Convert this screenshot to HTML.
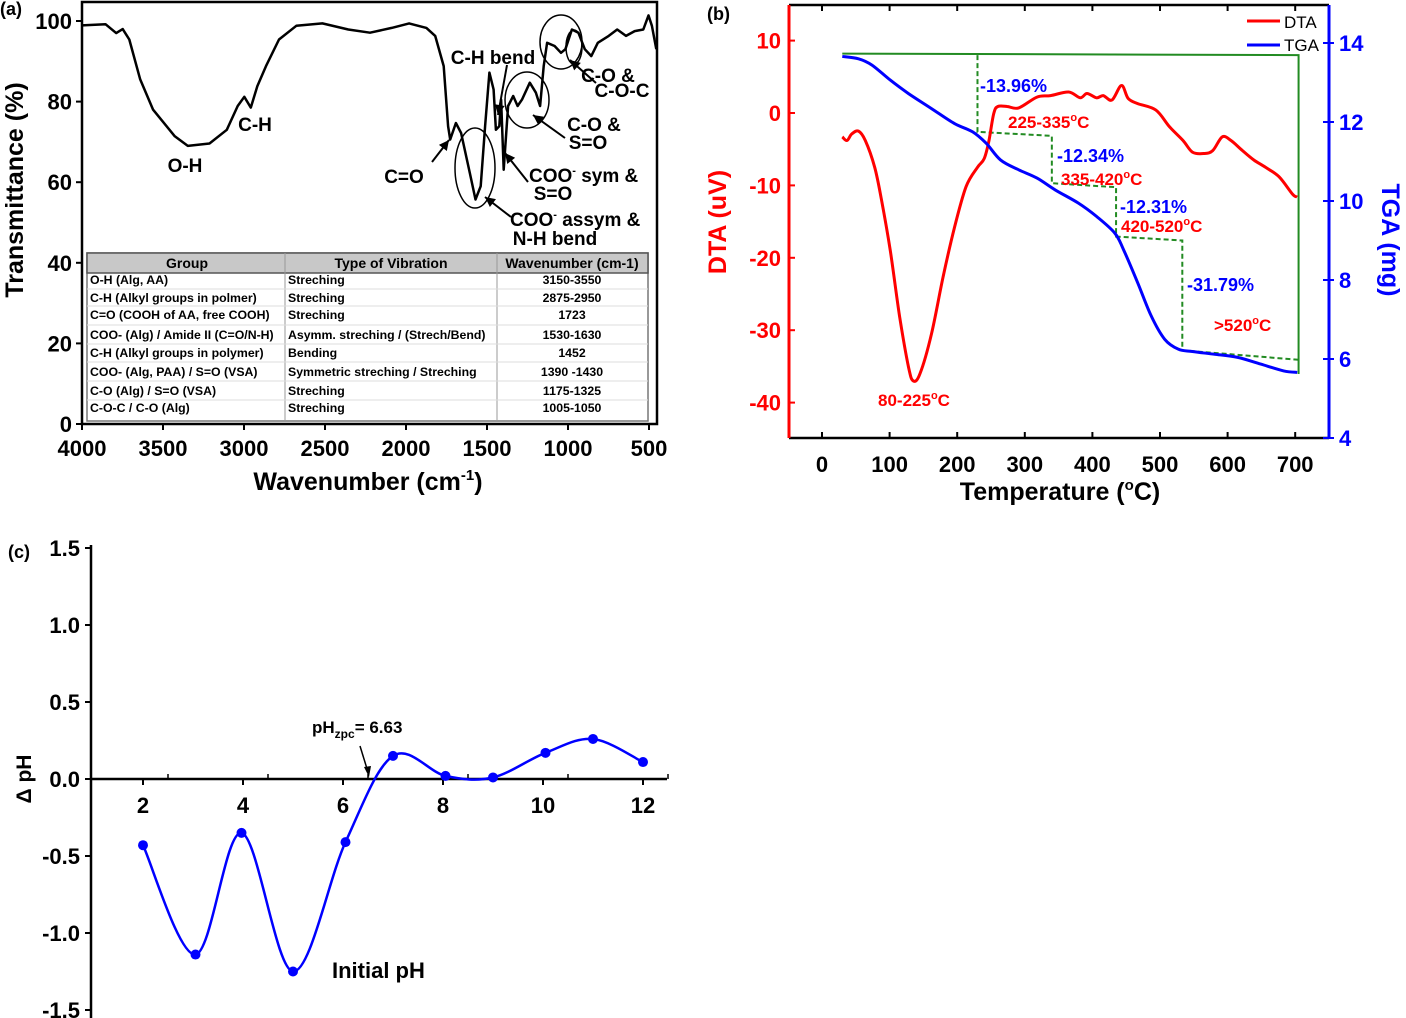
<!DOCTYPE html>
<html><head><meta charset="utf-8"><style>
html,body{margin:0;padding:0;background:#fff;}
svg{display:block;font-family:"Liberation Sans",Arial,sans-serif;font-weight:bold;}
</style></head><body>
<svg id="fig" width="1406" height="1018" viewBox="0 0 1406 1018" xmlns="http://www.w3.org/2000/svg">
<g id="pa"></g>
<g id="pb"></g>
<g id="pc"></g>
</svg>
<script>
// ---------- Panel (a) FTIR data ----------
const ftirWave = [4000,3855,3789,3749,3708,3641,3561,3427,3347,3213,3106,3039,2998,2958,2918,2864,2784,2677,2516,2356,2222,2088,1981,1874,1820,1767,1740,1727,1692,1660,1606,1571,1539,1512,1485,1459,1445,1424,1413,1397,1370,1338,1311,1284,1236,1198,1172,1150,1129,1083,1043,1016,976,936,896,856,816,749,696,642,588,535,503,482,455];
const ftirTrans = [98.9,99.2,97,98,95.4,85.5,78,71.4,69,69.6,73,78.9,81.2,78.5,83.8,88.8,95.4,98.8,99.4,97.9,97.1,98.3,99.4,98.3,96.3,88.8,73.9,70.6,74.7,72.2,62.3,55.7,59,73.9,87.2,83,73,73.9,80.5,63.1,78.9,81.4,78.9,80.5,84.7,82.2,78.9,88.8,94.6,93.8,92.1,93,97.9,97.1,93,91.3,94.6,96.3,97.9,96.3,97.5,97.9,101.4,98.8,93];
const ftirXTicks = [4000,3500,3000,2500,2000,1500,1000,500];
const ftirYTicks = [0,20,40,60,80,100];
const tableGroups = ["O-H (Alg, AA)","C-H (Alkyl groups in polmer)","C=O (COOH of AA, free COOH)","COO- (Alg) / Amide II (C=O/N-H)","C-H (Alkyl groups in polymer)","COO- (Alg, PAA) / S=O (VSA)","C-O (Alg) / S=O (VSA)","C-O-C / C-O (Alg)"];
const tableTypes = ["Streching","Streching","Streching","Asymm. streching / (Strech/Bend)","Bending","Symmetric streching / Streching","Streching","Streching"];
const tableWaves = ["3150-3550","2875-2950","1723","1530-1630","1452","1390 -1430","1175-1325","1005-1050"];

// ---------- Panel (b) thermal data ----------
const dtaTemp = [30,37,44,54,64,78,88,101,115,128,135,145,162,179,196,213,230,240,247,254,260,274,291,318,338,365,382,392,406,416,429,443,453,467,494,514,534,548,565,578,592,605,622,639,656,676,696,703];
const dtaVal = [-3.3,-3.8,-2.9,-2.5,-3.8,-7.5,-12,-19,-28.2,-35.1,-37,-36,-30.5,-22.7,-15.8,-10.2,-7.5,-6.3,-3.8,-0.1,0.9,0.9,0.7,2.2,2.4,2.9,2.1,2.7,2.1,2.4,1.8,3.8,2.0,1.3,0.4,-1.9,-3.8,-5.4,-5.6,-5.2,-3.3,-3.8,-5.2,-6.5,-7.5,-8.8,-11.2,-11.6];
const tgaTemp = [30,54,74,101,128,162,196,223,243,264,291,318,345,379,406,433,446,467,487,507,527,548,581,615,649,683,703];
const tgaVal = [13.66,13.6,13.44,13.06,12.72,12.34,11.96,11.75,11.46,11.04,10.79,10.58,10.28,9.95,9.61,9.19,8.77,7.93,7.09,6.5,6.25,6.19,6.12,6.04,5.87,5.7,5.66];
const tempTicks = [0,100,200,300,400,500,600,700];
const dtaTicks = [-40,-30,-20,-10,0,10];
const tgaTicks = [4,6,8,10,12,14];
const stepTemps = [230,340,435,533];
const stepTga = [11.75,10.45,9.1,6.22];
const stepLabels = ["-13.96%","-12.34%","-12.31%","-31.79%"];

// ---------- Panel (c) pH data ----------
const phInit = [2.0,3.05,3.97,5.0,6.05,7.0,8.05,9.0,10.05,11.0,12.0];
const phDelta = [-0.43,-1.14,-0.35,-1.25,-0.41,0.15,0.02,0.01,0.17,0.26,0.11];
const phXTicks = [2,4,6,8,10,12];
const phYTicks = [-1.5,-1.0,-0.5,0.0,0.5,1.0,1.5];

const NS = "http://www.w3.org/2000/svg";
function mk(parent, tag, attrs, text){
  const e = document.createElementNS(NS, tag);
  for (const k in attrs) e.setAttribute(k, attrs[k]);
  if (text !== undefined) e.textContent = text;
  parent.appendChild(e);
  return e;
}
function smoothPath(P){
  let d=`M${P[0][0]},${P[0][1]}`;
  for(let i=0;i<P.length-1;i++){
    const p0=P[Math.max(0,i-1)],p1=P[i],p2=P[i+1],p3=P[Math.min(P.length-1,i+2)];
    const c1=[p1[0]+(p2[0]-p0[0])/6,p1[1]+(p2[1]-p0[1])/6];
    const c2=[p2[0]-(p3[0]-p1[0])/6,p2[1]-(p3[1]-p1[1])/6];
    d+=` C${c1[0].toFixed(1)},${c1[1].toFixed(1)} ${c2[0].toFixed(1)},${c2[1].toFixed(1)} ${p2[0].toFixed(1)},${p2[1].toFixed(1)}`;
  }
  return d;
}

// ===== Panel A =====
(function(){
  const g = document.getElementById('pa');
  const L=82,R=657,T=2,B=424;
  const xs = w => L + (4000 - w) / 1000 * 162;
  const ys = v => 424 - v * 4.03;
  let e = mk(g,'rect',{x:L,y:T,width:R-L,height:B-T,fill:'none',stroke:'#000','stroke-width':2.5});
   
  ftirXTicks.forEach(t=>{
    const x=xs(t);
    let tk = mk(g,'line',{x1:x,y1:B,x2:x,y2:B+6,stroke:'#000','stroke-width':2});
     
    let lb = mk(g,'text',{x:x,y:B+32,'font-size':22,'text-anchor':'middle'},String(t));
     
  });
  ftirYTicks.forEach(t=>{
    const y=ys(t);
    let tk = mk(g,'line',{x1:L-6,y1:y,x2:L,y2:y,stroke:'#000','stroke-width':2});
     
    let lb = mk(g,'text',{x:L-10,y:y+8,'font-size':22,'text-anchor':'end'},String(t));
     
  });
  let t1 = mk(g,'text',{x:0,y:0,'font-size':25,'text-anchor':'middle',transform:'translate(23,190) rotate(-90)'},'Transmittance (%)');
   
  let t2 = mk(g,'text',{x:368,y:490,'font-size':25,'text-anchor':'middle'});
   
  t2.innerHTML = 'Wavenumber (cm<tspan dy="-10" font-size="15">-1</tspan><tspan dy="10">)</tspan>';
  let pl = mk(g,'text',{x:0,y:15,'font-size':18},'(a)');
   
  const pts = ftirWave.map((w,i)=>xs(w).toFixed(1)+','+ys(ftirTrans[i]).toFixed(1)).join(' ');
  let c = mk(g,'polyline',{points:pts,fill:'none',stroke:'#000','stroke-width':2.5,'stroke-linejoin':'round'});
   
  [[475,168,20,40],[527,100,22,28],[561,42,21,27],[574,47,8,17]].forEach(a=>{
    let el = mk(g,'ellipse',{cx:a[0],cy:a[1],rx:a[2],ry:a[3],fill:'none',stroke:'#000','stroke-width':1.5});
     
  });
  const arrows=[[432,162,449,140],[507,65,498,115],[528,182,505,153],[511,217,485,197],[565,138,533,115],[596,83,570,60]];
  arrows.forEach(a=>{
    let ln = mk(g,'line',{x1:a[0],y1:a[1],x2:a[2],y2:a[3],stroke:'#000','stroke-width':2});
     
    const ang=Math.atan2(a[3]-a[1],a[2]-a[0]);
    const hx=a[2],hy=a[3],s=10,w=5;
    const bx=hx-s*Math.cos(ang),by=hy-s*Math.sin(ang);
    const p=`${hx},${hy} ${bx-w*Math.sin(ang)},${by+w*Math.cos(ang)} ${bx+w*Math.sin(ang)},${by-w*Math.cos(ang)}`;
    let hd = mk(g,'polygon',{points:p,fill:'#000'});
     
  });
  const ann=[['O-H',185,172,'middle'],['C-H',255,131,'middle'],['C=O',404,183,'middle'],['C-H bend',493,64,'middle'],
    ['C-O &',608,82,'middle'],['C-O-C',622,97,'middle'],['C-O &',594,131,'middle'],['S=O',588,149,'middle'],
    ['S=O',553,200,'middle'],['N-H bend',555,245,'middle']];
  ann.forEach(a=>{
    let t = mk(g,'text',{x:a[1],y:a[2],'font-size':19,'text-anchor':a[3]},a[0]);
     
  });
  let s1 = mk(g,'text',{x:529,y:182,'font-size':19});
   
  s1.innerHTML='COO<tspan dy="-8" font-size="11">-</tspan><tspan dy="8"> sym &amp;</tspan>';
  let s2 = mk(g,'text',{x:510,y:226,'font-size':19});
   
  s2.innerHTML='COO<tspan dy="-8" font-size="11">-</tspan><tspan dy="8"> assym &amp;</tspan>';
  const tg = mk(g,'g',{});
   
  mk(tg,'rect',{x:87,y:253,width:561,height:168,fill:'#fff',stroke:'#777','stroke-width':1.5});
  let hr = mk(tg,'rect',{x:87,y:253,width:561,height:20,fill:'#c8c8c8',stroke:'#555','stroke-width':1.5});
   
  [285,497].forEach(x=>mk(tg,'line',{x1:x,y1:253,x2:x,y2:421,stroke:'#999','stroke-width':1}));
  [[187,'Group'],[391,'Type of Vibration'],[572,'Wavenumber (cm-1)']].forEach(h=>{
    let t=mk(tg,'text',{x:h[0],y:268,'font-size':14,'text-anchor':'middle'},h[1]);
     
  });
  const rowY=[280,298,315,335,353,372,391,408];
  [289,306,325,344,362,381,400].forEach(y=>mk(tg,'line',{x1:87,y1:y,x2:648,y2:y,stroke:'#ddd','stroke-width':1}));
  tableGroups.forEach((s,i)=>{
    let a=mk(tg,'text',{x:90,y:rowY[i]+4,'font-size':12.3},s);
     
    let b=mk(tg,'text',{x:288,y:rowY[i]+4,'font-size':12.3},tableTypes[i]);
     
    let c2=mk(tg,'text',{x:572,y:rowY[i]+4,'font-size':12.3,'text-anchor':'middle'},tableWaves[i]);
     
  });
})();

// ===== Panel B =====
(function(){
  const g=document.getElementById('pb');
  const L=789,R=1329,T=5,B=438;
  const xs=t=>822+t*0.676;
  const yd=v=>113-v*7.24;
  const yt=v=>438-(v-4)*39.5;
  let fr=mk(g,'line',{x1:L,y1:T,x2:R,y2:T,stroke:'#000','stroke-width':2.5});
   
  let bx=mk(g,'line',{x1:L,y1:B,x2:R,y2:B,stroke:'#000','stroke-width':2.5});
   
  let la=mk(g,'line',{x1:L,y1:T,x2:L,y2:B,stroke:'#ff0000','stroke-width':3});
   
  let ra=mk(g,'line',{x1:R,y1:T,x2:R,y2:B,stroke:'#0000ff','stroke-width':3});
   
  tempTicks.forEach(t=>{
    const x=xs(t);
    let tk=mk(g,'line',{x1:x,y1:B-6,x2:x,y2:B,stroke:'#000','stroke-width':2});
     
    let tk2=mk(g,'line',{x1:x,y1:T,x2:x,y2:T+6,stroke:'#000','stroke-width':2});
     
    let lb=mk(g,'text',{x:x,y:B+34,'font-size':22,'text-anchor':'middle'},String(t));
     
  });
  dtaTicks.forEach(t=>{
    const y=yd(t);
    let tk=mk(g,'line',{x1:L,y1:y,x2:L+6,y2:y,stroke:'#ff0000','stroke-width':2});
     
    let lb=mk(g,'text',{x:L-8,y:y+8,'font-size':22,fill:'#ff0000','text-anchor':'end'},String(t));
     
  });
  tgaTicks.forEach(t=>{
    const y=yt(t);
    let tk=mk(g,'line',{x1:R-6,y1:y,x2:R+5,y2:y,stroke:'#0000ff','stroke-width':2});
     
    let lb=mk(g,'text',{x:R+10,y:y+8,'font-size':22,fill:'#0000ff'},String(t));
     
  });
  let ya=mk(g,'text',{x:0,y:0,'font-size':25,fill:'#ff0000','text-anchor':'middle',transform:'translate(726,222) rotate(-90)'},'DTA (uV)');
   
  let yb=mk(g,'text',{x:0,y:0,'font-size':25,fill:'#0000ff','text-anchor':'middle',transform:'translate(1382,240) rotate(90)'},'TGA (mg)');
   
  let xt=mk(g,'text',{x:1060,y:500,'font-size':25,'text-anchor':'middle'});
   
  xt.innerHTML='Temperature (<tspan dy="-10" font-size="15">o</tspan><tspan dy="10">C)</tspan>';
  let pl=mk(g,'text',{x:707,y:20,'font-size':18},'(b)');
   
  let ge=mk(g,'polyline',{points:`${xs(30)},${yd(8.2)} ${xs(705)},${yd(8.0)} ${xs(705)},${yt(5.62)}`,fill:'none',stroke:'#228b22','stroke-width':2});
   
  let d=`M${xs(stepTemps[0])},${yd(8.0)}`;
  for(let i=0;i<stepTemps.length;i++){
    d+=` L${xs(stepTemps[i])},${yt(stepTga[i])}`;
    const nx = i<stepTemps.length-1? stepTemps[i+1] : 705;
    const ny = i<stepTemps.length-1? stepTga[i]-0.1 : 5.98;
    d+=` L${xs(nx)},${yt(ny)}`;
  }
  let ds=mk(g,'path',{d:d,fill:'none',stroke:'#228b22','stroke-width':2,'stroke-dasharray':'5,3'});
   
  let dc=mk(g,'path',{d:smoothPath(dtaTemp.map((t,i)=>[xs(t),yd(dtaVal[i])])),fill:'none',stroke:'#ff0000','stroke-width':3,'stroke-linejoin':'round'});
   
  let tc=mk(g,'path',{d:smoothPath(tgaTemp.map((t,i)=>[xs(t),yt(tgaVal[i])])),fill:'none',stroke:'#0000ff','stroke-width':3,'stroke-linejoin':'round'});
   
  const pctPos=[[980,92],[1057,162],[1120,213],[1187,291]];
  stepLabels.forEach((s,i)=>{
    let t=mk(g,'text',{x:pctPos[i][0],y:pctPos[i][1],'font-size':18,fill:'#0000ff'},s);
     
  });
  [['225-335',1008,128],['335-420',1061,185],['420-520',1121,232],['>520',1214,331],['80-225',878,406]].forEach(a=>{
    let t=mk(g,'text',{x:a[1],y:a[2],'font-size':17,fill:'#ff0000'});
     
    t.innerHTML=a[0].replace('>','&gt;')+'<tspan dy="-7" font-size="11">o</tspan><tspan dy="7">C</tspan>';
  });
  let l1=mk(g,'line',{x1:1247,y1:21,x2:1280,y2:21,stroke:'#ff0000','stroke-width':3});
   
  let lt1=mk(g,'text',{x:1284,y:28,'font-size':17,'font-weight':'normal'},'DTA');
   
  let l2=mk(g,'line',{x1:1247,y1:45,x2:1280,y2:45,stroke:'#0000ff','stroke-width':3});
   
  let lt2=mk(g,'text',{x:1284,y:51,'font-size':17,'font-weight':'normal'},'TGA');
   
})();

// ===== Panel C =====
(function(){
  const g=document.getElementById('pc');
  const xs=v=>143+(v-2)*50;
  const ys=v=>779-v*154;
  let la=mk(g,'line',{x1:91,y1:545,x2:91,y2:1018,stroke:'#000','stroke-width':2.5});
   
  let xa=mk(g,'line',{x1:90,y1:779,x2:667,y2:779,stroke:'#000','stroke-width':2.5});
   
  phXTicks.forEach(t=>{
    const x=xs(t);
    let tk=mk(g,'line',{x1:x,y1:779,x2:x,y2:785,stroke:'#000','stroke-width':2});
     
    let tk2=mk(g,'line',{x1:x+25,y1:774,x2:x+25,y2:779,stroke:'#000','stroke-width':1.5});
     
    let lb=mk(g,'text',{x:x,y:813,'font-size':22,'text-anchor':'middle'},String(t));
     
  });
  phYTicks.forEach(t=>{
    const y=ys(t);
    let tk=mk(g,'line',{x1:85,y1:y,x2:91,y2:y,stroke:'#000','stroke-width':2});
     
    let lb=mk(g,'text',{x:80,y:y+8,'font-size':22,'text-anchor':'end'},t.toFixed(1));
     
  });
  let yt=mk(g,'text',{x:0,y:0,'font-size':21,'text-anchor':'middle',transform:'translate(31,779) rotate(-90)'},'Δ pH');
   
  let xt=mk(g,'text',{x:332,y:978,'font-size':22},'Initial pH');
   
  let pl=mk(g,'text',{x:8,y:558,'font-size':18},'(c)');
   
  const P=phInit.map((v,i)=>[xs(v),ys(phDelta[i])]);
  let cv=mk(g,'path',{d:smoothPath(P),fill:'none',stroke:'#0000ff','stroke-width':2.5});
   
  P.forEach(p=>{
    let c=mk(g,'circle',{cx:p[0],cy:p[1],r:5,fill:'#0000ff'});
     
  });
  let an=mk(g,'text',{x:312,y:733,'font-size':17});
   
  an.innerHTML='pH<tspan dy="5" font-size="12">zpc</tspan><tspan dy="-5">= 6.63</tspan>';
  let ar=mk(g,'line',{x1:360,y1:746,x2:368,y2:772,stroke:'#000','stroke-width':1.5});
   
  let ah=mk(g,'polygon',{points:'369,777 364,767 371,766',fill:'#000'});
   
})();
</script>
</body></html>
